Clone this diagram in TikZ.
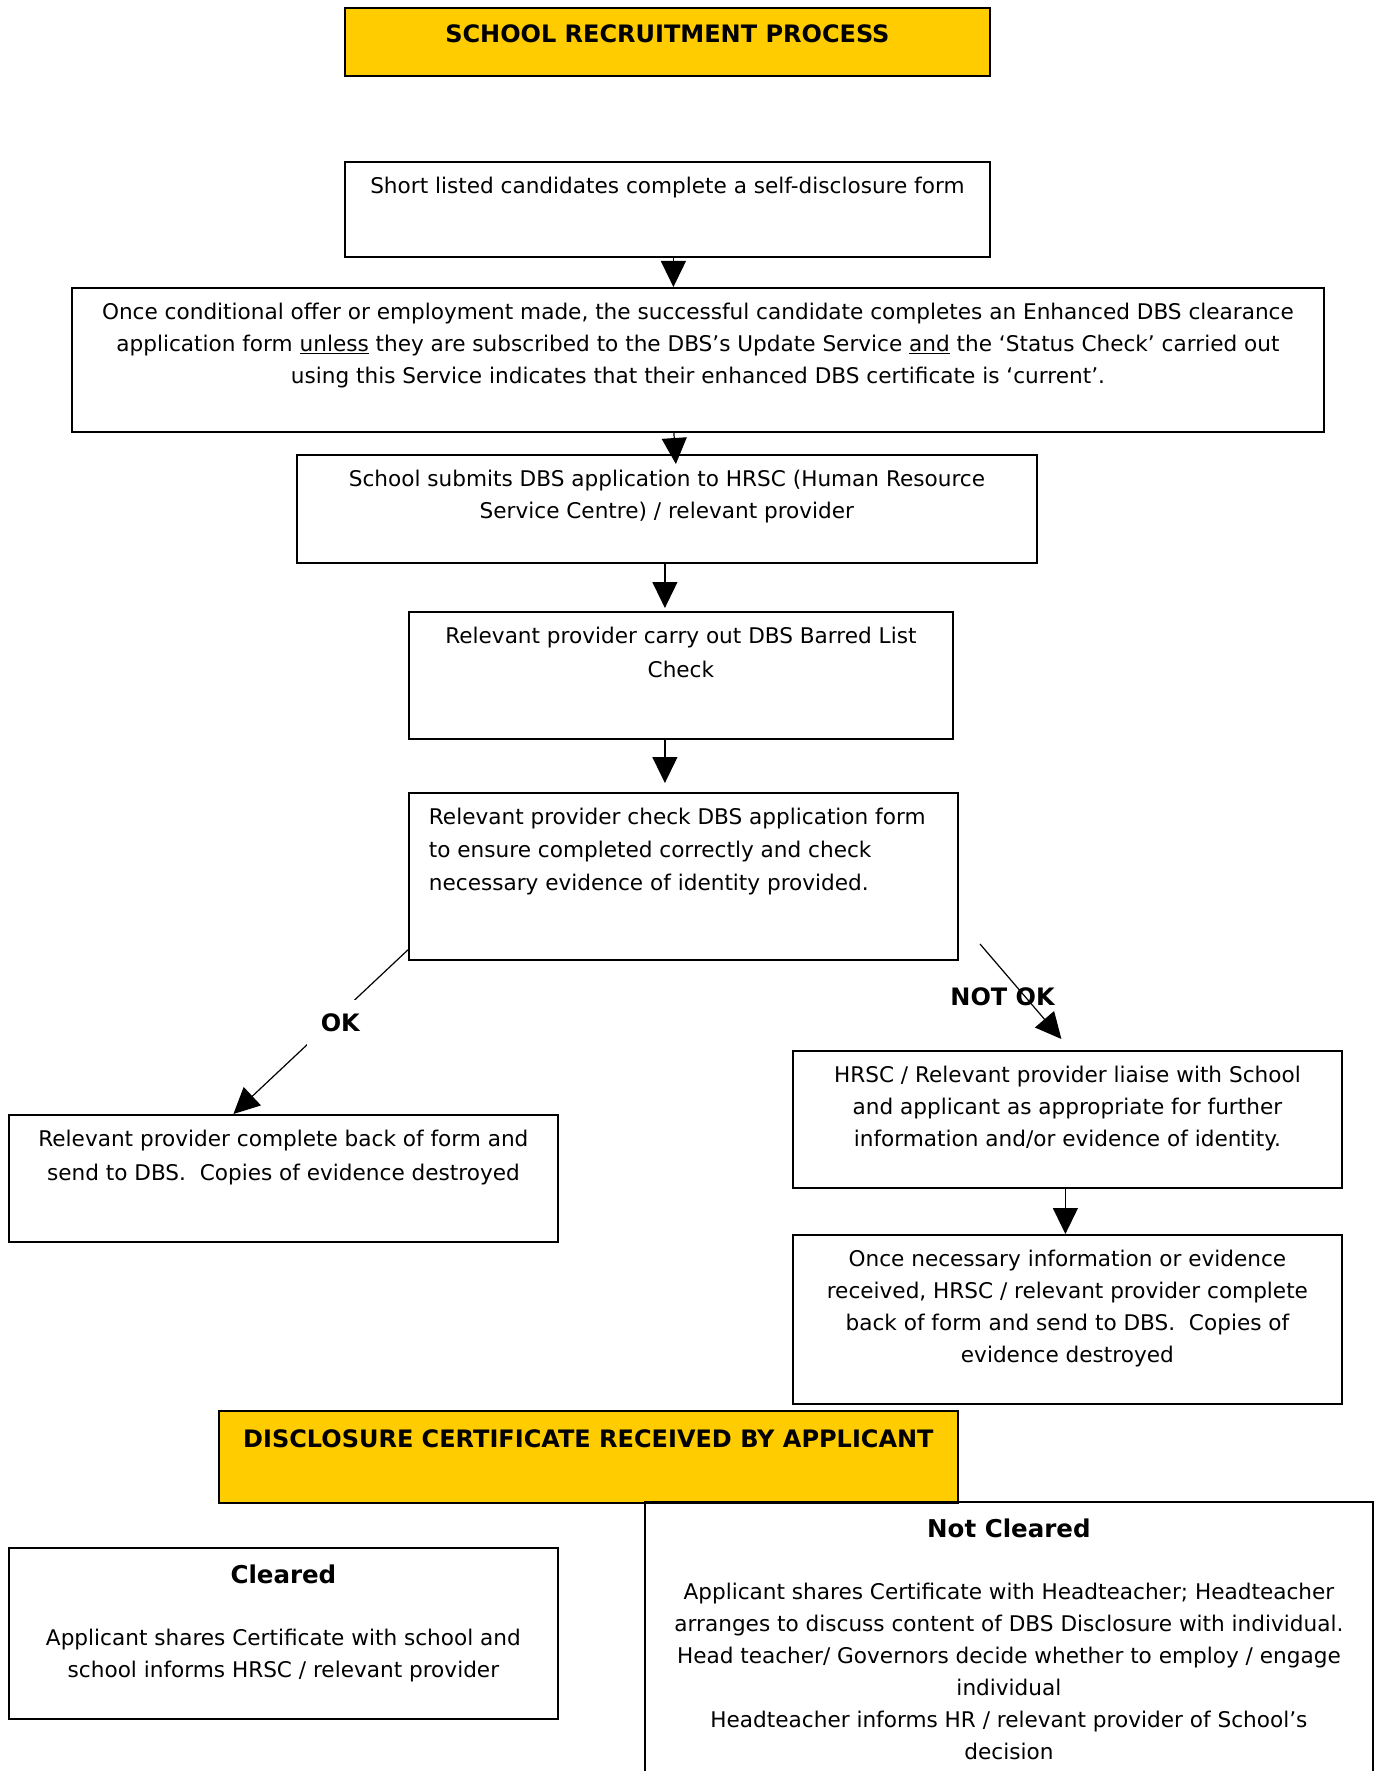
\documentclass[tikz,border=0pt]{standalone}
\usepackage{fontspec}
\setmainfont{DejaVu Sans}
\usetikzlibrary{arrows.meta}
\definecolor{titlegold}{HTML}{FFCC00}
\newcommand{\boxtxt}[4][9pt]{\parbox[c][#3pt][t]{#2pt}{\vspace*{#1}\centering\strut#4}}

\begin{document}
\begin{tikzpicture}[x=1pt,y=-1pt,
  box/.style={draw,line width=1.8pt,inner sep=0pt,anchor=north west,
    font=\fontsize{21.6}{32}\selectfont},
  banner/.style={box,fill=titlegold,font=\fontsize{24}{32}\selectfont\bfseries},
  arr/.style={line width=1.2pt,-{Triangle[length=26pt,width=25pt]}},
  tag/.style={font=\fontsize{24}{28}\selectfont\bfseries}]
  \useasboundingbox (0,0) rectangle (1378,1771);

  \node[banner] (title) at (344,7) {\boxtxt[12pt]{645}{68}{SCHOOL RECRUITMENT PROCESS}};
  \node[box] (list) at (344,161) {\boxtxt{645}{95}{Short listed candidates complete a self-disclosure form}};
  \node[box] (offer) at (71,287) {\boxtxt{1252}{144}{Once conditional offer or employment made, the successful candidate completes an Enhanced DBS clearance\\
    application form \underline{unless} they are subscribed to the DBS's Update Service \underline{and} the `Status Check' carried out\\
    using this Service indicates that their enhanced DBS certificate is `current'.}};
  \node[box] (submit) at (296,454) {\boxtxt{740}{108}{School submits DBS application to HRSC (Human Resource\\
    Service Centre) / relevant provider}};
  \node[box] (barred) at (408,611) {\boxtxt{544}{127}{Relevant provider carry out DBS Barred List\\[2pt] Check}};
  \node[box] (check) at (408,792) {\boxtxt{549}{167}{\raggedright\leftskip=20pt Relevant provider check DBS application form\\[1pt]
    to ensure completed correctly and check\\[1pt]
    necessary evidence of identity provided.}};
  \node[box] (ok) at (8,1114) {\boxtxt{549}{127}{Relevant provider complete back of form and\\[2pt]
    send to DBS.~ Copies of evidence destroyed}};
  \node[box] (liaise) at (792,1050) {\boxtxt{549}{137}{HRSC / Relevant provider liaise with School\\
    and applicant as appropriate for further\\
    information and/or evidence of identity.}};
  \node[box] (resend) at (792,1234) {\boxtxt{549}{169}{Once necessary information or evidence\\
    received, HRSC / relevant provider complete\\
    back of form and send to DBS.~ Copies of\\
    evidence destroyed}};
  \node[banner] (received) at (218,1410) {\boxtxt[14pt]{739}{92}{DISCLOSURE CERTIFICATE RECEIVED BY APPLICANT}};
  \node[box] (cleared) at (8,1547) {\boxtxt[13pt]{549}{171}{{\fontsize{24.5}{32}\selectfont\bfseries Cleared}\\[30pt]
    Applicant shares Certificate with school and\\
    school informs HRSC / relevant provider}};
  \node[box] (notcleared) at (644,1501) {\boxtxt[13pt]{728}{290}{{\fontsize{24.5}{32}\selectfont\bfseries Not Cleared}\\[30pt]
    Applicant shares Certificate with Headteacher; Headteacher\\
    arranges to discuss content of DBS Disclosure with individual.\\
    Head teacher/ Governors decide whether to employ / engage\\
    individual\\
    Headteacher informs HR / relevant provider of School's\\
    decision}};

  % arrows
  \draw[arr] ([xshift=6pt]list.south) -- ([xshift=6pt]list.south |- offer.north);
  \draw[arr] ([xshift=7pt]submit.north |- offer.south) -- ([xshift=9pt,yshift=-10pt]submit.north);
  \draw[arr] ([xshift=-2pt]submit.south) -- ([xshift=-2pt,yshift=3pt]submit.south |- barred.north);
  \draw[arr] ([xshift=-16pt]barred.south) -- ([xshift=-16pt,yshift=9pt]barred.south |- check.north);
  \draw[arr] ([yshift=11pt]check.south west) -- ([xshift=-50pt]ok.north)
    node[pos=0.445,xshift=10pt,fill=white,inner sep=14pt,tag] (oklbl) {OK};
  \coordinate (nok) at (980,944);
  \draw[arr] (nok) -- ([xshift=-6pt,yshift=11pt]liaise.north)
    node[pos=0.56,xshift=-23pt,tag] (noklbl) {NOT OK};
  \draw[arr] ([xshift=-2pt]liaise.south) -- ([xshift=-2pt]liaise.south |- resend.north);
\end{tikzpicture}
\end{document}
